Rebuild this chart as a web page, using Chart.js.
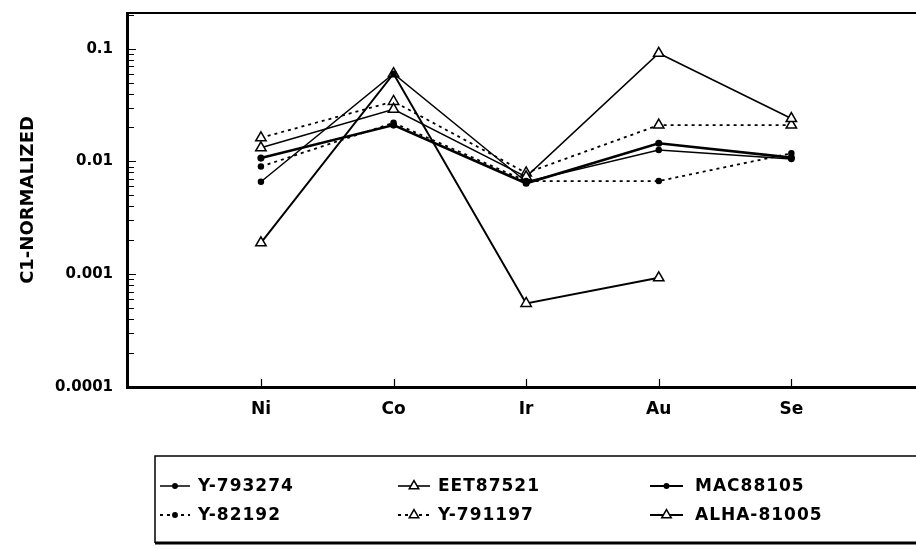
<!DOCTYPE html>
<html><head><meta charset="utf-8">
<script src="https://cdn.jsdelivr.net/npm/chart.js@4"></script>
<style>html,body{margin:0;padding:0;background:#fff;} #wrap{width:916px;height:549px;position:relative}</style>
</head><body><div id="wrap"><canvas id="c" width="916" height="549"></canvas></div>
<script>
// ---- data ----
const categories = ['Ni', 'Co', 'Ir', 'Au', 'Se'];
const yTickValues = [0.0001, 0.001, 0.01, 0.1];
const yTickLabels = ['0.0001', '0.001', '0.01', '0.1'];
const yAxisTitle = 'C1-NORMALIZED';

const y793274   = [0.0066, 0.060, 0.0066, 0.0126, 0.0105];
const y82192    = [0.0090, 0.022, 0.0067, 0.0067, 0.0118];
const eet87521  = [0.0132, 0.029, 0.0073, 0.091, 0.024];
const y791197   = [0.0162, 0.034, 0.0079, 0.021, 0.021];
const mac88105  = [0.0107, 0.021, 0.0064, 0.0145, 0.0108];
const alha81005 = [0.0019, 0.060, 0.00055, 0.00093, null];

const seriesNames = ['Y-793274', 'Y-82192', 'EET87521', 'Y-791197', 'MAC88105', 'ALHA-81005'];
const seriesValues = [y793274, y82192, eet87521, y791197, mac88105, alha81005];

// ---- styles ----
const seriesStyles = [
  {dash: [], width: 1.5, point: 'circle', radius: 2.5},
  {dash: [3, 4], width: 1.8, point: 'circle', radius: 2.5},
  {dash: [], width: 1.6, point: 'triangle', radius: 6},
  {dash: [3, 4], width: 1.8, point: 'triangle', radius: 6},
  {dash: [], width: 2.6, point: 'circle', radius: 2.8},
  {dash: [], width: 2.0, point: 'triangle', radius: 6}
];

const FONT = "'DejaVu Sans', sans-serif";

const datasets = seriesNames.map((name, k) => {
  const st = seriesStyles[k];
  return {
    label: name,
    data: seriesValues[k].map((v, i) => ({x: i, y: v})),
    borderColor: '#000',
    borderWidth: st.width,
    borderDash: st.dash,
    pointStyle: st.point,
    pointRadius: st.radius,
    pointBorderWidth: 1.5,
    pointBorderColor: '#000',
    pointBackgroundColor: st.point === 'triangle' ? '#fff' : '#000',
    fill: false,
    tension: 0,
    spanGaps: false
  };
});

const framePlugin = {
  id: 'framePlugin',
  beforeDraw(chart) {
    const ctx = chart.ctx;
    ctx.save();
    ctx.fillStyle = '#fff';
    ctx.fillRect(0, 0, chart.width, chart.height);
    ctx.restore();
  },
  afterDraw(chart) {
    const {ctx, chartArea: a, scales} = chart;
    const xs = scales.x, ys = scales.y;
    ctx.save();
    ctx.strokeStyle = '#000';
    // top frame line
    ctx.lineWidth = 2;
    ctx.beginPath();
    ctx.moveTo(a.left - 1, a.top);
    ctx.lineTo(a.right, a.top);
    ctx.stroke();
    // inward ticks on y axis
    ctx.lineWidth = 1.2;
    ctx.beginPath();
    for (const d of yTickValues) {
      for (let m = 1; m <= 9; m++) {
        const v = d * m;
        if (v > ys.max) break;
        const py = Math.round(ys.getPixelForValue(v)) + 0.5;
        ctx.moveTo(a.left, py);
        ctx.lineTo(a.left + (m === 1 ? 9 : 7), py);
      }
    }
    ctx.stroke();
    // inward ticks on x axis
    ctx.beginPath();
    categories.forEach((c, i) => {
      const px = Math.round(xs.getPixelForValue(i)) + 0.5;
      ctx.moveTo(px, a.bottom);
      ctx.lineTo(px, a.bottom - 8);
    });
    ctx.stroke();

    // legend box
    const boxL = 155, boxT = 456, boxB = 543, boxR = chart.width;
    ctx.lineWidth = 1.5;
    ctx.beginPath();
    ctx.moveTo(boxL, boxB);
    ctx.lineTo(boxL, boxT);
    ctx.lineTo(boxR, boxT);
    ctx.stroke();
    ctx.lineWidth = 3;
    ctx.beginPath();
    ctx.moveTo(boxL, boxB);
    ctx.lineTo(boxR, boxB);
    ctx.stroke();

    const cols = [{s0: 160, s1: 190, t: 198}, {s0: 398, s1: 430, t: 438}, {s0: 650, s1: 683, t: 695}];
    const rows = [486, 515];
    datasets.forEach((ds, k) => {
      const col = cols[Math.floor(k / 2)];
      const ry = rows[k % 2];
      const st = seriesStyles[k];
      ctx.save();
      ctx.strokeStyle = '#000';
      ctx.lineWidth = Math.min(st.width, 2);
      ctx.setLineDash(st.dash);
      ctx.beginPath();
      ctx.moveTo(col.s0, ry);
      ctx.lineTo(col.s1, ry);
      ctx.stroke();
      ctx.setLineDash([]);
      ctx.fillStyle = st.point === 'triangle' ? '#fff' : '#000';
      ctx.lineWidth = 1.5;
      Chart.helpers.drawPoint(ctx, {
        pointStyle: st.point,
        radius: st.point === 'triangle' ? 5.5 : 2.2,
        borderWidth: 1.5,
        rotation: 0
      }, (col.s0 + col.s1) / 2, ry);
      ctx.restore();
      ctx.save();
      ctx.font = "bold 17px " + FONT;
      ctx.letterSpacing = '1px';
      ctx.textBaseline = 'middle';
      ctx.textAlign = 'left';
      ctx.fillStyle = '#000';
      ctx.fillText(ds.label, col.t, ry + 1);
      ctx.restore();
    });
    ctx.restore();
  }
};

new Chart(document.getElementById('c'), {
  type: 'line',
  data: {datasets},
  options: {
    responsive: false,
    animation: false,
    events: [],
    layout: {autoPadding: false, padding: {top: 13, right: 0, bottom: 0, left: 0}},
    plugins: {legend: {display: false}, tooltip: {enabled: false}},
    scales: {
      x: {
        type: 'linear',
        min: -1.01,
        max: 4.94,
        grid: {display: false, drawTicks: false},
        border: {display: true, width: 3, color: '#000'},
        afterBuildTicks: (s) => { s.ticks = categories.map((c, i) => ({value: i})); },
        afterFit: (s) => { s.height = 162; s.paddingLeft = 0; s.paddingRight = 0; },
        ticks: {
          padding: 12,
          color: '#000',
          font: {family: FONT, size: 17, weight: 'bold'},
          callback: (v) => categories[v] !== undefined ? categories[v] : ''
        }
      },
      y: {
        type: 'logarithmic',
        min: 0.0001,
        max: 0.207,
        grid: {display: false, drawTicks: false},
        border: {display: true, width: 3, color: '#000'},
        afterBuildTicks: (s) => { s.ticks = yTickValues.map(v => ({value: v, major: true})); },
        afterFit: (s) => { s.width = 127; s.paddingTop = 0; s.paddingBottom = 0; },
        ticks: {
          padding: 14,
          color: '#000',
          font: {family: FONT, size: 15, weight: 'bold'},
          callback: (v) => { const i = yTickValues.indexOf(v); return i >= 0 ? yTickLabels[i] : ''; }
        },
        title: {
          display: true,
          text: yAxisTitle,
          color: '#000',
          font: {family: FONT, size: 18, weight: 'bold'},
          padding: {top: 18, bottom: 0}
        }
      }
    }
  },
  plugins: [framePlugin]
});
</script>
</body></html>
